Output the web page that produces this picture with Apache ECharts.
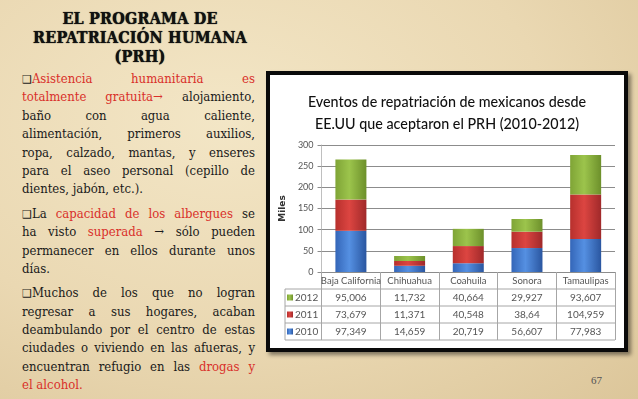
<!DOCTYPE html>
<html>
<head>
<meta charset="utf-8">
<script src="https://cdn.jsdelivr.net/npm/echarts@6/dist/echarts.min.js"></script>
<style>
    body {
        margin: 0;
        width: 638px;
        height: 399px;
        overflow: hidden;
        position: relative;
        background: radial-gradient(ellipse at 35% 30%, #f3e6c6 0%, #ead8b2 55%, #dcc69a 100%);
        font-family: "DejaVu Serif Condensed", "DejaVu Serif", serif;
    }
    #slideTitle {
        position: absolute;
        left: 22px;
        top: 9px;
        width: 236px;
        text-align: center;
        font-family: "DejaVu Serif Condensed", "DejaVu Serif", serif;
        font-weight: 900;
        font-size: 16px;
        line-height: 19px;
        letter-spacing: 0.2px;
        color: #111;
        text-shadow: 0 0 1px #000;
    }
    #body {
        position: absolute;
        left: 22px;
        top: 70px;
        width: 233px;
        font-size: 13px;
        color: #1a1a1a;
    }
    .ln {
        white-space: nowrap;
        height: 18.4px;
        line-height: 18.4px;
        text-align: justify;
        text-align-last: justify;
    }
    .ln.last {
        text-align-last: left;
    }
    .gap {
        height: 6px;
    }
    .red {
        color: #d9302a;
    }
    .bul {
        font-family: "DejaVu Sans", sans-serif;
        font-size: 11px;
    }
    #box {
        position: absolute;
        left: 266px;
        top: 71px;
        width: 354px;
        height: 273px;
        border: 4px solid #0a0a0a;
        background: #fff;
        box-shadow: 3px 3px 4px rgba(0, 0, 0, 0.45);
    }
    #chart {
        width: 354px;
        height: 273px;
    }
    #pageNum {
        position: absolute;
        left: 591px;
        top: 374px;
        font-family: "Liberation Serif", serif;
        font-size: 11px;
        color: #555;
    }
</style>
</head>
<body>
<div id="slideTitle">EL PROGRAMA DE<br>REPATRIACIÓN HUMANA<br>(PRH)</div>
<div id="body">
    <div class="ln"><span class="bul">❑</span><span class="red">Asistencia humanitaria es</span></div>
    <div class="ln"><span class="red">totalmente gratuita→</span> alojamiento,</div>
    <div class="ln">baño con agua caliente,</div>
    <div class="ln">alimentación, primeros auxilios,</div>
    <div class="ln">ropa, calzado, mantas, y enseres</div>
    <div class="ln">para el aseo personal (cepillo de</div>
    <div class="ln last">dientes, jabón, etc.).</div>
    <div class="gap"></div>
    <div class="ln"><span class="bul">❑</span>La <span class="red">capacidad de los albergues</span> se</div>
    <div class="ln">ha visto <span class="red">superada</span> → sólo pueden</div>
    <div class="ln">permanecer en ellos durante unos</div>
    <div class="ln last">días.</div>
    <div class="gap"></div>
    <div class="ln"><span class="bul">❑</span>Muchos de los que no logran</div>
    <div class="ln">regresar a sus hogares, acaban</div>
    <div class="ln">deambulando por el centro de estas</div>
    <div class="ln">ciudades o viviendo en las afueras, y</div>
    <div class="ln">encuentran refugio en las <span class="red">drogas y</span></div>
    <div class="ln last"><span class="red">el alcohol.</span></div>
</div>
<div id="box"><div id="chart"></div></div>
<div id="pageNum">67</div>
<script>
    var estados = ['Baja California', 'Chihuahua', 'Coahuila', 'Sonora', 'Tamaulipas'];
    var datos2010 = [97.349, 14.659, 20.719, 56.607, 77.983];
    var datos2011 = [73.679, 11.371, 40.548, 38.64, 104.959];
    var datos2012 = [95.006, 11.732, 40.664, 29.927, 93.607];
    var anios = ['2010', '2011', '2012'];

    var GRID = {left: 43, top: 70, width: 302, height: 127};
    var ROW = 17;
    var LEFT_COL = 15;
    var font = "Lato, 'DejaVu Sans', sans-serif";

    function barColor(c0, c1, c2) {
        return new echarts.graphic.LinearGradient(0, 0, 1, 0, [
            {offset: 0, color: c0},
            {offset: 0.45, color: c1},
            {offset: 1, color: c2}
        ]);
    }

    function formatea(v) {
        return String(v).replace('.', ',');
    }

    function filaTabla(values, offset) {
        return {
            type: 'category',
            gridIndex: 0,
            position: 'bottom',
            offset: offset,
            data: values.map(formatea),
            axisLine: {show: false},
            axisTick: {show: false},
            axisLabel: {color: '#555', fontSize: 10, fontFamily: font, margin: 4, interval: 0}
        };
    }

    var lineasTabla = [];
    for (var i = 1; i <= 4; i++) {
        lineasTabla.push({
            type: 'line',
            shape: {
                x1: LEFT_COL, y1: GRID.top + GRID.height + ROW * i,
                x2: GRID.left + GRID.width, y2: GRID.top + GRID.height + ROW * i
            },
            style: {stroke: '#a6a6a6', lineWidth: 1}
        });
    }
    lineasTabla.push({
        type: 'line',
        shape: {
            x1: LEFT_COL, y1: GRID.top + GRID.height + ROW,
            x2: LEFT_COL, y2: GRID.top + GRID.height + ROW * 4
        },
        style: {stroke: '#a6a6a6', lineWidth: 1}
    });

    var myChart = echarts.init(document.getElementById('chart'));
    myChart.setOption({
        animation: false,
        title: {
            text: 'Eventos de repatriación de mexicanos desde\nEE.UU que aceptaron el PRH (2010-2012)',
            left: 'center',
            top: 11,
            textStyle: {
                color: '#111',
                fontSize: 14.3,
                fontWeight: 500,
                fontFamily: font,
                lineHeight: 22
            }
        },
        legend: {
            data: ['2012', '2011', '2010'],
            orient: 'vertical',
            left: LEFT_COL + 2,
            top: GRID.top + GRID.height + ROW,
            itemWidth: 6,
            itemHeight: 6,
            itemGap: 0,
            padding: 0,
            icon: 'rect',
            textStyle: {color: '#555', fontSize: 10, fontFamily: font, lineHeight: ROW, padding: [0, 0, 0, -3]}
        },
        grid: {left: GRID.left, top: GRID.top, width: GRID.width, height: GRID.height},
        xAxis: [
            {
                type: 'category',
                data: estados,
                axisLine: {lineStyle: {color: '#8c8c8c'}},
                axisTick: {show: true, length: ROW * 4, lineStyle: {color: '#a6a6a6'}},
                axisLabel: {color: '#555', fontSize: 9.5, fontFamily: font, margin: 4, interval: 0}
            },
            filaTabla(datos2012, ROW),
            filaTabla(datos2011, ROW * 2),
            filaTabla(datos2010, ROW * 3)
        ],
        yAxis: {
            type: 'value',
            min: 0,
            max: 300,
            interval: 50,
            name: 'Miles',
            nameLocation: 'middle',
            nameRotate: 90,
            nameGap: 22,
            nameTextStyle: {color: '#333', fontSize: 9, fontWeight: 'bold', fontFamily: 'DejaVu Sans'},
            axisLine: {show: true, lineStyle: {color: '#bfbfbf'}},
            axisTick: {show: true, length: 4, lineStyle: {color: '#8c8c8c'}},
            axisLabel: {color: '#555', fontSize: 9, fontFamily: font, margin: 8},
            splitLine: {lineStyle: {color: '#8c8c8c'}}
        },
        graphic: lineasTabla,
        series: [
            {
                name: anios[0],
                type: 'bar',
                stack: 'total',
                barWidth: 31,
                data: datos2010,
                itemStyle: {color: barColor('#3466b8', '#5590e2', '#2a56a0')}
            },
            {
                name: anios[1],
                type: 'bar',
                stack: 'total',
                barWidth: 31,
                data: datos2011,
                itemStyle: {color: barColor('#b7302d', '#dc4541', '#a0292a')}
            },
            {
                name: anios[2],
                type: 'bar',
                stack: 'total',
                barWidth: 31,
                data: datos2012,
                itemStyle: {color: barColor('#7fa436', '#9cc44c', '#6d902b')}
            }
        ]
    });
</script>
</body>
</html>
